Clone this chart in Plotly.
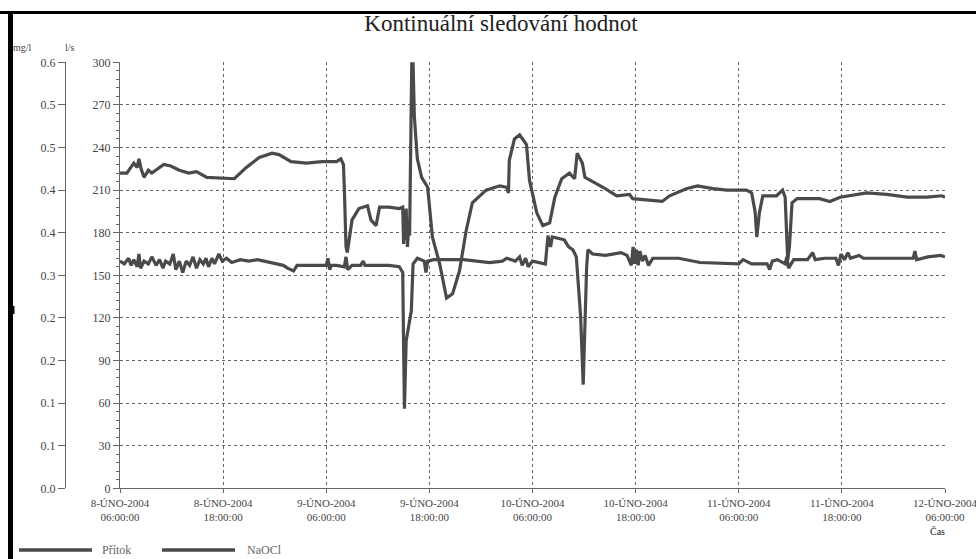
import pandas as pd
import plotly.graph_objects as go

START = pd.Timestamp("2004-02-08 06:00")

# Přítok (l/s) – hours after 8-ÚNO-2004 06:00 and values
pritok_h = [0.0, 0.8, 1.6, 2.0, 2.2, 2.45, 2.8, 3.3, 3.7, 5.1, 5.9, 6.9, 8.0, 8.9, 10.1, 13.3,
            14.7, 16.2, 17.7, 18.5, 19.9, 21.7, 23.5, 25.2, 25.7, 26.0, 26.1, 26.3, 26.45,
            26.7, 27.0, 27.8, 28.8, 29.2, 29.8, 30.2, 31.3, 32.5, 32.9, 33.0, 33.1, 33.2,
            33.3, 33.45, 33.55, 33.7, 33.85, 33.95, 34.1, 34.25, 34.6, 35.1, 35.8, 36.35,
            37.2, 38.0, 38.7, 39.5, 40.3, 41.0, 42.6, 44.2, 45.0, 45.2, 45.3, 45.9, 46.5,
            47.3, 47.65, 48.5, 49.2, 50.0, 50.6, 51.4, 52.3, 52.9, 53.2, 53.6, 53.8, 54.1,
            55.0, 56.2, 57.8, 59.3, 59.65, 61.3, 63.1, 63.95, 65.9, 67.2, 69.0, 70.6, 72.9,
            73.5, 73.9, 74.1, 74.4, 74.8, 76.4, 77.1, 77.4, 77.6, 77.7, 77.9, 78.2, 78.8,
            81.4, 82.6, 83.8, 86.9, 89.2, 91.6, 93.9, 95.65, 96.0]
pritok_ls = [222, 222, 229, 226, 232, 225, 219, 224, 222, 228, 227, 224, 222, 223, 219, 218,
             226, 233, 236, 235, 230, 229, 230, 230, 232, 228, 212, 170, 166,
             175, 189, 197, 199, 189, 185, 198, 198, 197, 198, 172, 196, 175,
             197, 170, 180, 178, 280, 300, 300, 262, 232, 219, 212, 177,
             158, 134, 137, 153, 182, 201, 210, 213, 212, 208, 231, 246, 249,
             242, 217, 194, 185, 187, 205, 218, 222, 218, 236, 232, 229, 219,
             216, 212, 206, 207, 204, 203, 202, 206, 211, 213, 211, 210, 210,
             208, 195, 177, 194, 206, 206, 210, 205, 175, 161, 170, 201, 204,
             204, 202, 205, 208, 207, 205, 205, 206, 205]

# NaOCl (mg/l)
naocl_h = [0.0, 0.5, 1.0, 1.3, 1.6, 2.0, 2.2, 2.4, 2.8, 3.3, 3.7, 4.2, 4.6, 5.0, 5.3, 5.8, 6.2,
           6.5, 6.9, 7.3, 7.7, 8.1, 8.5, 8.9, 9.3, 9.7, 10.0, 10.3, 10.7, 11.0, 11.5, 11.9,
           12.4, 13.0, 14.0, 15.0, 16.0, 17.5, 19.0, 19.5, 20.2, 20.6, 21.0, 24.0, 24.2, 24.4,
           24.6, 25.2, 26.1, 26.3, 26.5, 27.0, 28.0, 28.3, 28.5, 30.0, 31.3, 32.5, 32.9, 33.0,
           33.1, 33.3, 33.5, 33.9, 34.1, 34.6, 35.4, 35.6, 35.8, 36.5, 38.0, 40.0, 43.0, 44.5,
           45.0, 46.0, 46.5, 46.8, 47.2, 47.5, 48.0, 49.5, 49.8, 50.1, 50.3, 51.0, 51.7, 52.2,
           52.7, 53.1, 53.3, 53.6, 53.9, 54.1, 54.3, 54.45, 55.0, 56.5, 58.3, 59.0, 59.5, 59.7,
           59.9, 60.1, 60.3, 60.5, 60.8, 61.1, 61.5, 62.0, 63.0, 65.0, 67.5, 70.5, 72.0, 72.5,
           73.5, 75.3, 75.6, 75.9, 76.5, 77.4, 77.6, 77.8, 78.4, 80.0, 80.6, 80.9, 82.0, 83.3,
           83.6, 83.9, 84.3, 84.7, 85.0, 86.0, 86.5, 88.0, 91.0, 92.3, 92.5, 92.7, 94.0, 95.5,
           96.0]
naocl_mgl = [0.320, 0.316, 0.324, 0.314, 0.322, 0.312, 0.330, 0.310, 0.320, 0.316, 0.326, 0.314,
             0.322, 0.310, 0.320, 0.316, 0.330, 0.308, 0.320, 0.304, 0.320, 0.314, 0.326, 0.310,
             0.322, 0.316, 0.324, 0.312, 0.324, 0.316, 0.330, 0.320, 0.324, 0.318, 0.322, 0.320,
             0.322, 0.318, 0.314, 0.310, 0.306, 0.314, 0.314, 0.314, 0.324, 0.308, 0.314, 0.314,
             0.312, 0.326, 0.308, 0.314, 0.314, 0.320, 0.314, 0.314, 0.314, 0.312, 0.304, 0.200,
             0.112, 0.208, 0.222, 0.250, 0.316, 0.324, 0.320, 0.304, 0.320, 0.322, 0.322, 0.322,
             0.318, 0.320, 0.324, 0.320, 0.326, 0.314, 0.324, 0.312, 0.320, 0.316, 0.356, 0.340,
             0.354, 0.352, 0.350, 0.340, 0.336, 0.326, 0.288, 0.242, 0.146, 0.242, 0.312, 0.336,
             0.330, 0.328, 0.332, 0.328, 0.314, 0.340, 0.316, 0.336, 0.314, 0.334, 0.320, 0.328,
             0.314, 0.324, 0.324, 0.324, 0.318, 0.316, 0.316, 0.322, 0.316, 0.316, 0.308, 0.320,
             0.322, 0.316, 0.326, 0.310, 0.322, 0.322, 0.332, 0.322, 0.324, 0.324, 0.314, 0.330,
             0.322, 0.332, 0.324, 0.328, 0.324, 0.324, 0.324, 0.324, 0.334, 0.322, 0.326, 0.328,
             0.326]

x_tick_h = [0, 12, 24, 36, 48, 60, 72, 84, 96]
x_tick_text = ["8-ÚNO-2004<br>06:00:00", "8-ÚNO-2004<br>18:00:00", "9-ÚNO-2004<br>06:00:00",
               "9-ÚNO-2004<br>18:00:00", "10-ÚNO-2004<br>06:00:00", "10-ÚNO-2004<br>18:00:00",
               "11-ÚNO-2004<br>06:00:00", "11-ÚNO-2004<br>18:00:00", "12-ÚNO-2004<br>06:00:00"]
ls_ticks = [0, 30, 60, 90, 120, 150, 180, 210, 240, 270, 300]
mgl_ticks = [0.0, 0.06, 0.12, 0.18, 0.24, 0.30, 0.36, 0.42, 0.48, 0.54, 0.60]
mgl_tick_text = ["0.0", "0.1", "0.1", "0.2", "0.2", "0.3", "0.4", "0.4", "0.5", "0.5", "0.6"]

W, H = 976, 559
LINE = "#4a4a4a"
AX = "#666666"
TXT = "#444444"
SERIF = "Liberation Serif, Times New Roman, serif"


def t(hours):
    return START + pd.to_timedelta(pd.Series(hours), unit="h")


fig = go.Figure()
fig.add_trace(go.Scatter(x=t(pritok_h), y=pritok_ls, mode="lines", name="Přítok",
                         line=dict(color=LINE, width=3.2), yaxis="y", showlegend=False))
fig.add_trace(go.Scatter(x=t(naocl_h), y=naocl_mgl, mode="lines", name="NaOCl",
                         line=dict(color=LINE, width=3.2), yaxis="y2", showlegend=False))

px_x = lambda p: p / W
px_y = lambda p: 1 - p / H

fig.update_layout(
    width=W, height=H, template="none",
    margin=dict(l=0, r=0, t=0, b=0),
    paper_bgcolor="white", plot_bgcolor="white",
    font=dict(family=SERIF, size=10, color=TXT),
    title=dict(text="Kontinuální sledování hodnot", x=px_x(501), xanchor="center",
               y=px_y(23), yanchor="middle",
               font=dict(family=SERIF, size=23, color="#222222")),
    xaxis=dict(
        type="date", domain=[px_x(120), px_x(945)],
        range=[START, START + pd.Timedelta(hours=96)],
        tickvals=list(t(x_tick_h)), ticktext=x_tick_text,
        ticklabeloverflow="allow",
        showgrid=True, gridcolor=AX, griddash="dot", gridwidth=1,
        showline=True, linecolor=AX, linewidth=1,
        ticks="outside", ticklen=4, tickcolor=AX,
        tickfont=dict(family=SERIF, size=11, color=TXT),
        zeroline=False, automargin=False, anchor="y",
    ),
    yaxis=dict(
        domain=[px_y(488.3), px_y(62.3)], range=[0, 300],
        tickvals=ls_ticks,
        showgrid=True, gridcolor=AX, griddash="dot", gridwidth=1,
        showline=True, linecolor=AX, linewidth=1,
        ticks="outside", ticklen=6, tickcolor=AX,
        minor=dict(ticks="outside", dtick=6, ticklen=3, tickcolor=AX, showgrid=False),
        tickfont=dict(family=SERIF, size=12, color=TXT),
        zeroline=False, automargin=False, anchor="x",
    ),
    yaxis2=dict(
        overlaying="y", anchor="free", position=px_x(65), side="left",
        range=[0, 0.6], tickvals=mgl_ticks, ticktext=mgl_tick_text,
        showgrid=False, showline=True, linecolor=AX, linewidth=1,
        ticks="outside", ticklen=7, tickcolor=AX,
        tickfont=dict(family=SERIF, size=12, color=TXT),
        zeroline=False, automargin=False,
    ),
)

# frame strokes of the original image
fig.add_shape(type="rect", xref="paper", yref="paper", x0=px_x(8), x1=px_x(13),
              y0=0, y1=px_y(11), fillcolor="black", line=dict(width=0))
fig.add_shape(type="rect", xref="paper", yref="paper", x0=0, x1=1,
              y0=px_y(14), y1=px_y(11), fillcolor="black", line=dict(width=0))
fig.add_shape(type="rect", xref="paper", yref="paper", x0=px_x(12), x1=px_x(14.5),
              y0=px_y(314), y1=px_y(306), fillcolor="black", line=dict(width=0))

# legend drawn as line samples plus text
for x0, x1, label, tx in [(19, 92, "Přítok", 100), (162, 235, "NaOCl", 245)]:
    fig.add_shape(type="line", xref="paper", yref="paper", x0=px_x(x0), x1=px_x(x1),
                  y0=px_y(550), y1=px_y(550), line=dict(color=LINE, width=3.5))
    fig.add_annotation(text=label, xref="paper", yref="paper", x=px_x(tx), y=px_y(550),
                       xanchor="left", yanchor="middle", showarrow=False,
                       font=dict(family=SERIF, size=12, color="#666666"))

# unit labels and axis title
fig.add_annotation(text="mg/l", xref="paper", yref="paper", x=px_x(22), y=px_y(47),
                   xanchor="center", yanchor="middle", showarrow=False,
                   font=dict(family=SERIF, size=10, color=TXT))
fig.add_annotation(text="l/s", xref="paper", yref="paper", x=px_x(70), y=px_y(47),
                   xanchor="center", yanchor="middle", showarrow=False,
                   font=dict(family=SERIF, size=10, color=TXT))
fig.add_annotation(text="Čas", xref="paper", yref="paper", x=px_x(937), y=px_y(531),
                   xanchor="center", yanchor="middle", showarrow=False,
                   font=dict(family=SERIF, size=10, color="#222222"))

fig.write_html("out.html", config={"displayModeBar": False},
               post_script="document.body.style.margin='0';")
